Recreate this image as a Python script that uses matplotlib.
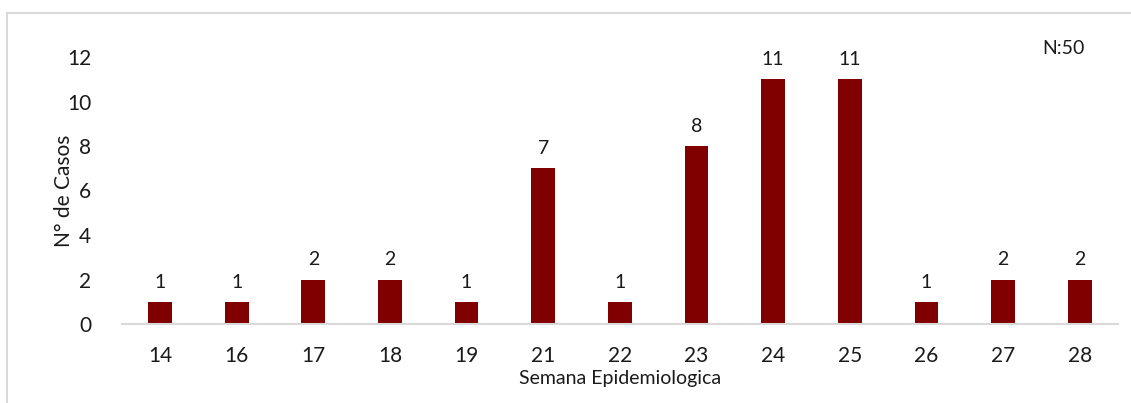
import numpy as np
import matplotlib.pyplot as plt
from matplotlib.lines import Line2D

semanas = ["14", "16", "17", "18", "19", "21", "22", "23", "24", "25", "26", "27", "28"]
casos = [1, 1, 2, 2, 1, 7, 1, 8, 11, 11, 1, 2, 2]

plt.rcParams['font.family'] = ['Lato', 'DejaVu Sans']

fig = plt.figure(figsize=(11.31, 4.03), dpi=100)
ax = fig.add_axes([121.7 / 1131, 1 - 324 / 403, (1118 - 121.7) / 1131, (324 - 57) / 403])

x = np.arange(len(semanas))
bars = ax.bar(x, casos, width=0.31, color='#800000')
for xi, v in zip(x, casos):
    ax.annotate(str(v), (xi, v), xytext=(0, 8), textcoords='offset points',
                ha='center', va='bottom', fontsize=14, color='#1a1a1a')

ax.set_xlim(-0.5, len(semanas) - 0.5)
ax.set_ylim(0, 12)
ax.set_yticks(range(0, 13, 2))
ax.set_xticks(x)
ax.set_xticklabels(semanas)
ax.tick_params(axis='both', length=0, labelsize=15, colors='#1a1a1a')
ax.tick_params(axis='x', pad=16)
ax.tick_params(axis='y', pad=22)
for s in ['top', 'right', 'left']:
    ax.spines[s].set_visible(False)
ax.spines['bottom'].set_color('#d9d9d9')
ax.spines['bottom'].set_linewidth(1.5)

ax.set_xlabel("Semana Epidemiologica", fontsize=14, color='#1a1a1a', labelpad=3)
ax.set_ylabel("N° de Casos", fontsize=15, color='#1a1a1a', labelpad=-5)

fig.text(1063 / 1131, 1 - 48 / 403, "N:50", ha='center', va='center', fontsize=14, color='#1a1a1a')

# outer chart border (only top and left visible in the crop)
fig.add_artist(Line2D([7 / 1131, 7 / 1131], [0, 1 - 13 / 403], transform=fig.transFigure, color='#d9d9d9', lw=1.5))
fig.add_artist(Line2D([7 / 1131, 1], [1 - 13 / 403, 1 - 13 / 403], transform=fig.transFigure, color='#d9d9d9', lw=1.5))

fig.savefig('out.png', dpi=100)
